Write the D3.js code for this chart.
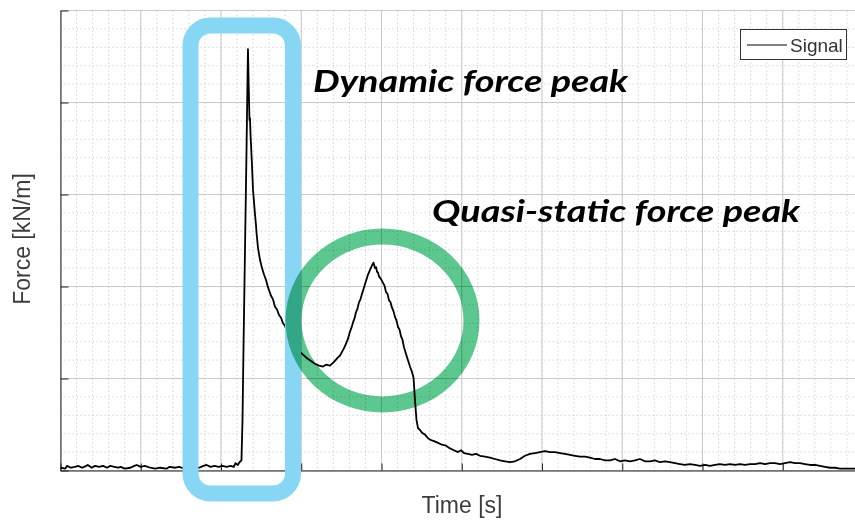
<!DOCTYPE html>
<html>
<head>
<meta charset="utf-8">
<script src="https://cdn.jsdelivr.net/npm/d3@7"></script>
<style>
  body { margin: 0; background: #fff; }
  svg { display: block; }
  .axislabel { font-family: "Liberation Sans", Arial, sans-serif; font-size: 23px; fill: #3c3c3c; }
  .note { font-family: Lato, "Open Sans", sans-serif; font-weight: 700; font-style: italic; fill: #000; }
</style>
</head>
<body>
<script>
// signal: time [s] and force [kN/m]
var timeValues = [
  0.00, 0.06, 0.08, 0.13, 0.18, 0.22, 0.27, 0.32, 0.34, 0.39, 0.43, 0.48, 0.53, 0.58, 0.62, 0.67, 0.72, 0.75, 0.80, 0.87,
  0.92, 0.95, 1.00, 1.05, 1.12, 1.18, 1.24, 1.32, 1.36, 1.43, 1.48, 1.54, 1.61, 1.67, 1.73, 1.78, 1.82, 1.87, 1.92, 1.97,
  2.02, 2.07, 2.12, 2.16, 2.18, 2.21, 2.23,
  2.255, 2.268, 2.280, 2.299, 2.318, 2.330, 2.336,
  2.346, 2.355, 2.361, 2.368, 2.386, 2.399, 2.424, 2.436, 2.442, 2.461, 2.486, 2.511, 2.536, 2.561, 2.586, 2.623,
  2.648, 2.673, 2.698, 2.723, 2.748, 2.773, 2.798, 2.823, 2.848, 2.872, 2.897, 2.922, 2.972, 3.022, 3.072, 3.121, 3.171, 3.221, 3.271, 3.308, 3.358,
  3.408, 3.458, 3.483, 3.508, 3.533, 3.558, 3.582, 3.607, 3.625, 3.645, 3.663, 3.682, 3.701, 3.720, 3.738, 3.757, 3.782, 3.807, 3.832, 3.857, 3.882, 3.900,
  3.919, 3.932, 3.944, 3.957, 3.969, 3.994, 4.019, 4.037, 4.056, 4.075, 4.093, 4.112, 4.131, 4.150, 4.168, 4.187, 4.206, 4.225, 4.243, 4.262, 4.280, 4.318, 4.355, 4.380, 4.399,
  4.417, 4.436, 4.455, 4.480, 4.505, 4.542, 4.580, 4.617, 4.654, 4.704, 4.754, 4.804, 4.854, 4.903, 4.953, 4.991,
  5.028, 5.078, 5.128, 5.178, 5.227, 5.290, 5.352, 5.414, 5.477, 5.539, 5.601, 5.664, 5.726, 5.788, 5.850, 5.913,
  5.975, 6.037, 6.100, 6.162, 6.224, 6.287, 6.349, 6.411, 6.474, 6.536, 6.598, 6.660, 6.723, 6.785, 6.847, 6.910,
  6.972, 7.034, 7.097, 7.159, 7.221, 7.283, 7.346, 7.408, 7.470, 7.533, 7.595, 7.657, 7.720, 7.782, 7.844, 7.907,
  7.969, 8.031, 8.093, 8.156, 8.218, 8.280, 8.343, 8.405, 8.467, 8.530, 8.592, 8.654, 8.717, 8.779, 8.841, 8.903,
  8.966, 9.028, 9.090, 9.153, 9.215, 9.277, 9.340, 9.402, 9.464, 9.526, 9.589, 9.651, 9.713, 9.776, 9.838, 9.900
];
var forceValues = [
  0.03, 0.02, 0.05, 0.03, 0.04, 0.05, 0.03, 0.05, 0.06, 0.03, 0.05, 0.04, 0.05, 0.03, 0.05, 0.04, 0.03, 0.04, 0.02, 0.03,
  0.05, 0.06, 0.04, 0.05, 0.03, 0.02, 0.03, 0.02, 0.04, 0.03, 0.04, 0.02, 0.03, 0.02, 0.03, 0.05, 0.06, 0.04, 0.05, 0.04,
  0.05, 0.04, 0.05, 0.04, 0.08, 0.06, 0.09,
  0.11, 0.55, 1.31, 2.40, 3.48, 4.24, 4.58,
  4.14, 3.81, 3.83, 3.65, 3.32, 3.05, 2.78, 2.67, 2.59, 2.42, 2.29, 2.20, 2.13, 2.07, 1.99, 1.90,
  1.86, 1.78, 1.75, 1.69, 1.66, 1.60, 1.57, 1.52, 1.49, 1.43, 1.40, 1.35, 1.30, 1.26, 1.22, 1.19, 1.16, 1.14, 1.13, 1.15, 1.14,
  1.18, 1.23, 1.25, 1.29, 1.33, 1.38, 1.43, 1.51, 1.55, 1.61, 1.65, 1.72, 1.76, 1.83, 1.86, 1.92, 1.99, 2.06, 2.13, 2.18, 2.23, 2.26,
  2.20, 2.21, 2.16, 2.15, 2.11, 2.08, 2.04, 2.01, 1.94, 1.92, 1.85, 1.83, 1.77, 1.73, 1.67, 1.63, 1.56, 1.53, 1.46, 1.42, 1.34, 1.23, 1.13, 1.07, 1.01,
  0.77, 0.55, 0.46, 0.44, 0.41, 0.39, 0.35, 0.33, 0.32, 0.30, 0.28, 0.27, 0.24, 0.22, 0.20, 0.22,
  0.19, 0.18, 0.17, 0.18, 0.16, 0.15, 0.14, 0.125, 0.11, 0.10, 0.09, 0.10, 0.125, 0.16, 0.18, 0.19,
  0.20, 0.21, 0.20, 0.20, 0.19, 0.18, 0.17, 0.16, 0.15, 0.15, 0.14, 0.125, 0.125, 0.11, 0.11, 0.125,
  0.10, 0.11, 0.10, 0.11, 0.125, 0.10, 0.10, 0.11, 0.09, 0.10, 0.09, 0.08, 0.07, 0.06, 0.07, 0.06,
  0.05, 0.06, 0.05, 0.06, 0.07, 0.06, 0.07, 0.06, 0.07, 0.06, 0.07, 0.07, 0.08, 0.07, 0.08, 0.08,
  0.07, 0.08, 0.09, 0.08, 0.08, 0.07, 0.06, 0.06, 0.05, 0.04, 0.03, 0.03, 0.02, 0.02, 0.02, 0.02
];

var xTicks = [0, 1, 2, 3, 4, 5, 6, 7, 8, 9, 10];   // tick labels hidden in the original
var yTicks = [0, 1, 2, 3, 4, 5];
var xLabel = "Time [s]";
var yLabel = "Force [kN/m]";
var legendLabel = "Signal";
var notes = ["Dynamic force peak", "Quasi-static force peak"];

var w = 855, h = 522;
var plotLeft = 60.5, plotTop = 10.5, plotBottom = 470.5, plotRight = 863;   // "top" is taken by window.top

var svg = d3.select("body").append("svg")
    .attr("width", w)
    .attr("height", h);

var x = d3.scaleLinear().domain([0, 10]).range([plotLeft, plotRight]);
var y = d3.scaleLinear().domain([0, 5]).range([plotBottom, plotTop]);

// grid: dotted minor, solid major
var xMinor = d3.range(0, 10.001, 0.2), yMinor = d3.range(0, 5.001, 0.2);

var grid = svg.append("g").attr("class", "grid");
grid.selectAll(".xminor").data(xMinor).enter().append("line")
    .attr("x1", function(d){ return x(d); }).attr("x2", function(d){ return x(d); })
    .attr("y1", plotTop).attr("y2", plotBottom)
    .style("stroke", "#d4d4d4").style("stroke-dasharray", "1.5,2.5");
grid.selectAll(".yminor").data(yMinor).enter().append("line")
    .attr("y1", function(d){ return y(d); }).attr("y2", function(d){ return y(d); })
    .attr("x1", plotLeft).attr("x2", w)
    .style("stroke", "#d4d4d4").style("stroke-dasharray", "1.5,2.5");
grid.selectAll(".xmajor").data(xTicks).enter().append("line")
    .attr("x1", function(d){ return x(d); }).attr("x2", function(d){ return x(d); })
    .attr("y1", plotTop).attr("y2", plotBottom)
    .style("stroke", "#c8c8c8");
grid.selectAll(".ymajor").data(yTicks).enter().append("line")
    .attr("y1", function(d){ return y(d); }).attr("y2", function(d){ return y(d); })
    .attr("x1", plotLeft).attr("x2", w)
    .style("stroke", "#c8c8c8");

// axes with inward ticks, no labels
var xAxis = d3.axisBottom(x).tickValues(xTicks).tickFormat("").tickSizeInner(-7).tickSizeOuter(0);
var yAxis = d3.axisLeft(y).tickValues(yTicks).tickFormat("").tickSizeInner(-8).tickSizeOuter(0);

svg.append("g").attr("class", "xaxis")
    .attr("transform", "translate(0," + plotBottom + ")")
    .call(xAxis)
    .selectAll("path, line").style("stroke", "#222");
svg.append("g").attr("class", "yaxis")
    .attr("transform", "translate(" + plotLeft + ",0)")
    .call(yAxis)
    .selectAll("path, line").style("stroke", "#222");

// signal
var line = d3.line()
    .x(function(d, i){ return x(timeValues[i]); })
    .y(function(d){ return y(d); });

svg.append("path")
    .datum(forceValues)
    .attr("class", "signal")
    .attr("d", line)
    .style("fill", "none")
    .style("stroke", "#000")
    .style("stroke-width", 1.8)
    .style("stroke-linejoin", "round");

// legend
var legend = svg.append("g").attr("class", "legend");
legend.append("rect")
    .attr("x", 740.5).attr("y", 29.5).attr("width", 106).attr("height", 30)
    .style("fill", "#fff").style("stroke", "#333");
legend.append("line")
    .attr("x1", 747).attr("x2", 787).attr("y1", 45).attr("y2", 45)
    .style("stroke", "#000").style("stroke-width", 1.2);
legend.append("text")
    .attr("x", 790).attr("y", 52)
    .style("font-family", "'Liberation Sans', Arial, sans-serif")
    .style("font-size", "19px")
    .style("fill", "#333")
    .text(legendLabel);

// axis titles
svg.append("text")
    .attr("class", "axislabel")
    .attr("text-anchor", "middle")
    .attr("x", 462).attr("y", 513)
    .text(xLabel);
svg.append("text")
    .attr("class", "axislabel")
    .attr("text-anchor", "middle")
    .attr("transform", "translate(30,239) rotate(-90)")
    .text(yLabel);

// highlight shapes
svg.append("rect")
    .attr("x", 190.5).attr("y", 25.5).attr("width", 102.5).attr("height", 468)
    .attr("rx", 20).attr("ry", 20)
    .style("fill", "none")
    .style("stroke", "#87d6f4")
    .style("stroke-width", 16);

svg.append("ellipse")
    .attr("cx", 382.5).attr("cy", 320.5).attr("rx", 89).attr("ry", 84)
    .style("fill", "none")
    .style("stroke", "#5cc78e")
    .style("stroke-width", 16)
    .style("mix-blend-mode", "multiply");

// annotations
svg.append("text")
    .attr("class", "note")
    .attr("x", 313).attr("y", 92)
    .attr("textLength", 315).attr("lengthAdjust", "spacingAndGlyphs")
    .style("font-size", "31px")
    .text(notes[0]);
svg.append("text")
    .attr("class", "note")
    .attr("x", 432).attr("y", 222)
    .attr("textLength", 368).attr("lengthAdjust", "spacingAndGlyphs")
    .style("font-size", "31px")
    .text(notes[1]);
</script>
</body>
</html>
